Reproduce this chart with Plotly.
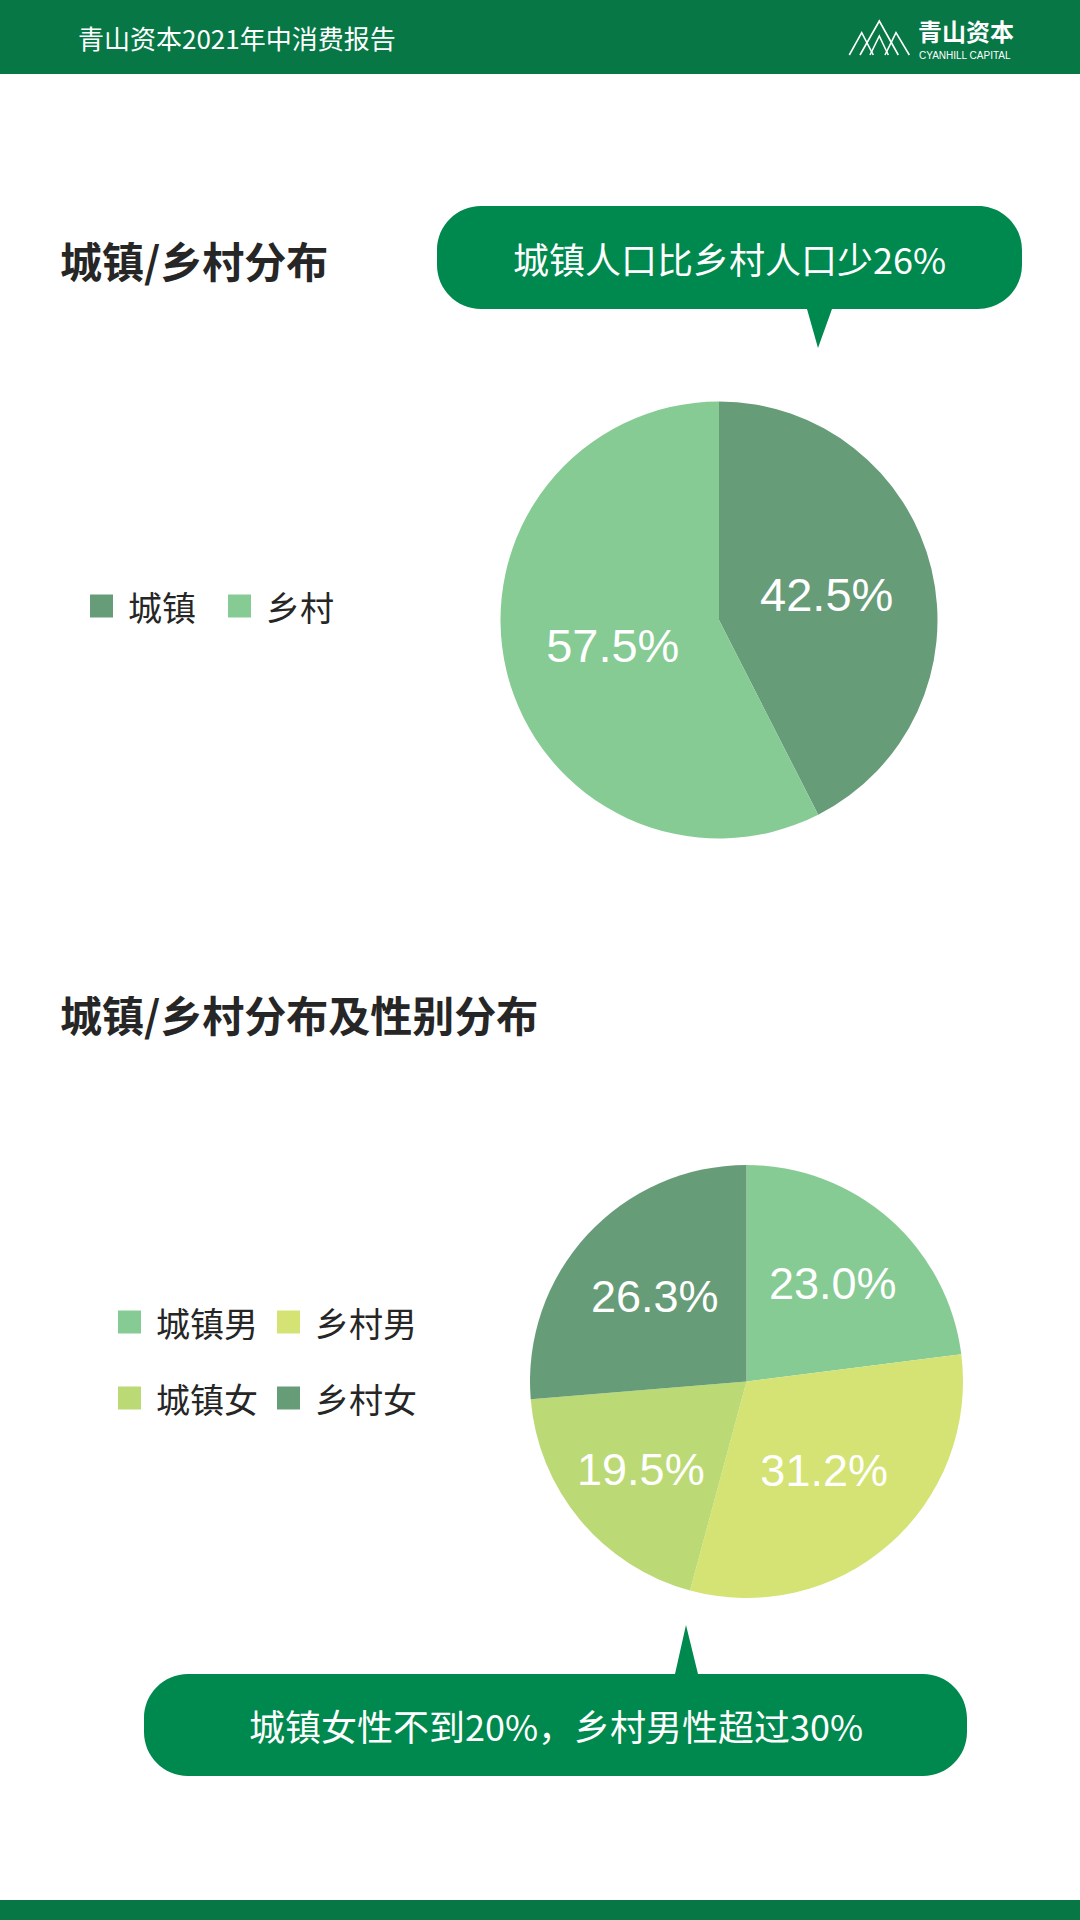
import plotly.graph_objects as go

W, H = 1080, 1920

# ---------------- data ----------------
pie1_categories = ["城镇", "乡村"]
pie1_values = [42.5, 57.5]

pie2_categories = ["城镇男", "乡村男", "城镇女", "乡村女"]
pie2_values = [23.0, 31.2, 19.5, 26.3]

header_title = "青山资本2021年中消费报告"
logo_cn = "青山资本"
logo_en = "CYANHILL CAPITAL"
title1 = "城镇/乡村分布"
title2 = "城镇/乡村分布及性别分布"
callout1 = "城镇人口比乡村人口少26%"
callout2 = "城镇女性不到20%，乡村男性超过30%"

# ---------------- styles ----------------
pie1_colors = ["#679C78", "#86CB94"]
pie2_colors = ["#86CB94", "#D4E373", "#BBDA75", "#679C78"]
HEADER_GREEN = "#067745"
BUBBLE_GREEN = "#00894E"
TEXT_DARK = "#262626"
CJK = "Noto Sans CJK SC"
LATIN = "Liberation Sans"


def px(x):
    return x / W


def py(y):
    return 1 - y / H


def dom(cx, cy, r):
    return dict(x=[(cx - r) / W, (cx + r) / W], y=[1 - (cy + r) / H, 1 - (cy - r) / H])


def pt(x, y):
    return f"{px(x):.6f},{py(y):.6f}"


def bubble_path(x0, y0, x1, y1, r, tx0, tx1, tip, tail_bottom=True):
    k = 0.5523 * r
    p = [f"M{pt(x0 + r, y0)}"]
    if not tail_bottom:
        p += [f"L{pt(tx0, y0)}", f"L{pt(*tip)}", f"L{pt(tx1, y0)}"]
    p.append(f"L{pt(x1 - r, y0)}")
    p.append(f"C{pt(x1 - r + k, y0)} {pt(x1, y0 + r - k)} {pt(x1, y0 + r)}")
    p.append(f"L{pt(x1, y1 - r)}")
    p.append(f"C{pt(x1, y1 - r + k)} {pt(x1 - r + k, y1)} {pt(x1 - r, y1)}")
    if tail_bottom:
        p += [f"L{pt(tx1, y1)}", f"L{pt(*tip)}", f"L{pt(tx0, y1)}"]
    p.append(f"L{pt(x0 + r, y1)}")
    p.append(f"C{pt(x0 + r - k, y1)} {pt(x0, y1 - r + k)} {pt(x0, y1 - r)}")
    p.append(f"L{pt(x0, y0 + r)}")
    p.append(f"C{pt(x0, y0 + r - k)} {pt(x0 + r - k, y0)} {pt(x0 + r, y0)}")
    p.append("Z")
    return " ".join(p)


fig = go.Figure()

# ---------------- pies ----------------
fig.add_trace(go.Pie(
    labels=pie1_categories, values=pie1_values, sort=False,
    direction="clockwise", rotation=0,
    marker=dict(colors=pie1_colors, line=dict(width=0)),
    texttemplate="%{value:.1f}%", textposition="inside",
    insidetextorientation="horizontal",
    textfont=dict(color="white", size=47, family=LATIN),
    hoverinfo="skip", showlegend=False,
    domain=dom(719, 620, 218.5),
))

fig.add_trace(go.Pie(
    labels=pie2_categories, values=pie2_values, sort=False,
    direction="clockwise", rotation=0,
    marker=dict(colors=pie2_colors, line=dict(width=0)),
    texttemplate="%{value:.1f}%", textposition="inside",
    insidetextorientation="horizontal",
    textfont=dict(color="white", size=45, family=LATIN),
    hoverinfo="skip", showlegend=False,
    domain=dom(746.5, 1381.5, 216.5),
))

shapes = []
annotations = []

# ---------------- header / footer ----------------
shapes.append(dict(type="rect", xref="paper", yref="paper", x0=0, x1=1,
                   y0=py(74), y1=1, fillcolor=HEADER_GREEN, line=dict(width=0), layer="below"))
shapes.append(dict(type="rect", xref="paper", yref="paper", x0=0, x1=1,
                   y0=0, y1=py(1900), fillcolor=HEADER_GREEN, line=dict(width=0), layer="below"))

annotations.append(dict(text=header_title, x=px(76), y=py(38), xref="paper", yref="paper",
                        xanchor="left", yanchor="middle", showarrow=False,
                        font=dict(family=CJK, size=26, color="white")))

# logo mountains
peaks = [
    ((849.3, 55), (861.7, 32.7), (873.3, 55)),
    ((860, 55), (879.3, 21), (898.3, 55)),
    ((870, 55), (879.3, 36), (888.3, 55)),
    ((885, 55), (896, 32.7), (909.3, 55)),
]
for a, b, c in peaks:
    shapes.append(dict(type="path", xref="paper", yref="paper",
                       path=f"M{pt(*a)} L{pt(*b)} L{pt(*c)}",
                       line=dict(color="white", width=1.6)))
annotations.append(dict(text=f"<b>{logo_cn}</b>", x=px(916), y=py(31), xref="paper", yref="paper",
                        xanchor="left", yanchor="middle", showarrow=False,
                        font=dict(family=CJK, size=24, color="white")))
annotations.append(dict(text=logo_en, x=px(917), y=py(55), xref="paper", yref="paper",
                        xanchor="left", yanchor="middle", showarrow=False,
                        font=dict(family=LATIN, size=10, color="white")))

# ---------------- titles ----------------
annotations.append(dict(text=f"<b>{title1}</b>", x=px(58), y=py(260), xref="paper", yref="paper",
                        xanchor="left", yanchor="middle", showarrow=False,
                        font=dict(family=CJK, size=42, color=TEXT_DARK)))
annotations.append(dict(text=f"<b>{title2}</b>", x=px(58), y=py(1014), xref="paper", yref="paper",
                        xanchor="left", yanchor="middle", showarrow=False,
                        font=dict(family=CJK, size=42, color=TEXT_DARK)))

# ---------------- callouts ----------------
shapes.append(dict(type="path", xref="paper", yref="paper",
                   path=bubble_path(437, 206, 1022, 309, 44, 807, 832, (818, 348), True),
                   fillcolor=BUBBLE_GREEN, line=dict(width=0)))
annotations.append(dict(text=callout1, x=px(729.5), y=py(258), xref="paper", yref="paper",
                        xanchor="center", yanchor="middle", showarrow=False,
                        font=dict(family=CJK, size=36, color="white")))

shapes.append(dict(type="path", xref="paper", yref="paper",
                   path=bubble_path(144, 1674, 967, 1776, 44, 675, 698, (686, 1625), False),
                   fillcolor=BUBBLE_GREEN, line=dict(width=0)))
annotations.append(dict(text=callout2, x=px(555.5), y=py(1725), xref="paper", yref="paper",
                        xanchor="center", yanchor="middle", showarrow=False,
                        font=dict(family=CJK, size=36, color="white")))

# ---------------- legends ----------------
SQ = 23
legend1_pos = [(90, 606), (228, 606)]
for (lx, ly), name, col in zip(legend1_pos, pie1_categories, pie1_colors):
    shapes.append(dict(type="rect", xref="paper", yref="paper",
                       x0=px(lx), x1=px(lx + SQ), y0=py(ly + SQ / 2), y1=py(ly - SQ / 2),
                       fillcolor=col, line=dict(width=0)))
    annotations.append(dict(text=name, x=px(lx + SQ + 13), y=py(ly), xref="paper", yref="paper",
                            xanchor="left", yanchor="middle", showarrow=False,
                            font=dict(family=CJK, size=34, color=TEXT_DARK)))

legend2_pos = [(118, 1322), (277, 1322), (118, 1398), (277, 1398)]
for (lx, ly), name, col in zip(legend2_pos, pie2_categories, pie2_colors):
    shapes.append(dict(type="rect", xref="paper", yref="paper",
                       x0=px(lx), x1=px(lx + SQ), y0=py(ly + SQ / 2), y1=py(ly - SQ / 2),
                       fillcolor=col, line=dict(width=0)))
    annotations.append(dict(text=name, x=px(lx + SQ + 13), y=py(ly), xref="paper", yref="paper",
                            xanchor="left", yanchor="middle", showarrow=False,
                            font=dict(family=CJK, size=34, color=TEXT_DARK)))

fig.update_layout(
    width=W, height=H,
    margin=dict(l=0, r=0, t=0, b=0),
    paper_bgcolor="white", plot_bgcolor="white",
    shapes=shapes, annotations=annotations,
    showlegend=False,
)

fig.write_html("out.html", config={"displayModeBar": False})
